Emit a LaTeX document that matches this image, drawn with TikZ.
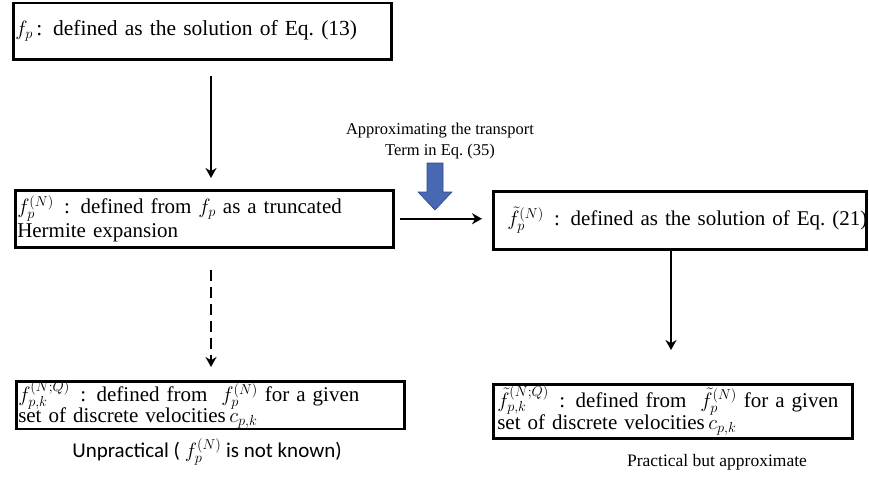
\documentclass[tikz,border=0pt]{standalone}
\usepackage{fontspec}
\setmainfont{Liberation Serif}
\newfontfamily\calfont{Carlito}
\usetikzlibrary{arrows.meta}
\definecolor{bluearrow}{RGB}{72,104,180}
\definecolor{blueedge}{RGB}{47,75,140}
\tikzset{
  box/.style={draw, line width=2.5pt, anchor=north west, align=left, inner ysep=0pt,
              font=\fontsize{21}{24}\selectfont},
  arr/.style={line width=2pt, -{Stealth[length=10pt,width=11pt]}},
  dasharr/.style={arr, dash pattern=on 11pt off 6pt},
  note/.style={align=center, font=\fontsize{16.5}{21}\selectfont},
}
\newcommand{\toprule}{\rule{0pt}{20pt}}
\begin{document}
\begin{tikzpicture}[x=1pt,y=-1pt]
\useasboundingbox (0,0) rectangle (869,495);
% boxes
\node[box, text width=374pt, minimum height=56pt, inner xsep=2pt,
      font=\fontsize{21.5}{24}\selectfont] (B1) at (12,2)
  {\mbox{$f_p$\,: defined as the solution of Eq.\ (13)}};
\node[box, text width=374pt, minimum height=57pt, inner xsep=2pt] (B2) at (14,189)
  {\mbox{$f_p^{(N)}$ \,: defined from $f_p$ as a truncated}\\\mbox{Hermite expansion}};
\node[box, text width=365pt, minimum height=58pt, inner xsep=4pt] (B3) at (492,190)
  {\hspace*{10pt}\mbox{$\tilde{f}_p^{(N)}$ \,: defined as the solution of Eq.\ (21)}};
\node[box, text width=384pt, minimum height=46pt, inner xsep=2pt, inner ysep=0.5pt,
      font=\fontsize{21}{21}\selectfont] (B4) at (15,380)
  {\mbox{\toprule\smash{$f_{p,k}^{(N;Q)}$} \,: defined from \ \smash{$f_p^{(N)}$} for a given}\\\mbox{set of discrete velocities\,$c_{p,k}$}};
\node[box, text width=351pt, minimum height=54pt, inner xsep=4pt,
      font=\fontsize{21}{22}\selectfont] (B5) at (492,383)
  {\mbox{\toprule\smash{$\tilde{f}_{p,k}^{(N;Q)}$} \,: defined from \ \smash{$\tilde{f}_p^{(N)}$} for a given}\\\mbox{set of discrete velocities\,$c_{p,k}$}};
% labels
\node[note] (A) at (440,141) {Approximating the transport\\Term in Eq.\ (35)};
\node[font=\calfont\fontsize{21}{24}\selectfont] (U) at (207,452)
  {Unpractical ( $f_p^{(N)}$ is not known)};
\node[font=\fontsize{17.5}{22}\selectfont] (P) at (717,462) {Practical but approximate};
% blue arrow
\filldraw[fill=bluearrow, draw=blueedge, line width=0.6pt]
  (427,163) -- (443,163) -- (443,192) -- (452,192) -- (435,210) -- (418,192) -- (427,192) -- cycle;
% connectors
\coordinate (xl) at (211,0);
\coordinate (xr) at (671,0);
\draw[arr, shorten <=15pt, shorten >=11pt] (B1.south -| xl) -- (B2.north -| xl);
\draw[arr, shorten <=5pt, shorten >=10pt] (B2.east) -- (B2.east -| B3.west);
\draw[dasharr, shorten <=21pt, shorten >=13pt] (B2.south -| xl) -- (B4.north -| xl);
\draw[arr, shorten >=33pt] (B3.south -| xr) -- (B5.north -| xr);
\end{tikzpicture}
\end{document}
